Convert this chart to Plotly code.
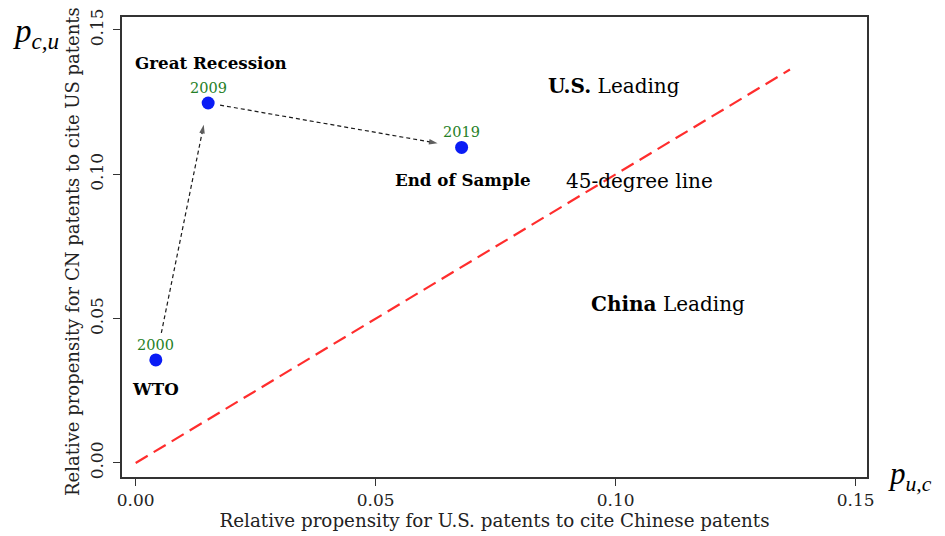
import plotly.graph_objects as go

# ---- data ----
years = ["2000", "2009", "2019"]
p_uc = [0.0042, 0.0151, 0.0679]      # x: propensity for U.S. patents to cite Chinese patents
p_cu = [0.0357, 0.1247, 0.1093]      # y: propensity for CN patents to cite US patents
events = ["WTO", "Great Recession", "End of Sample"]
diag = [0.0, 0.1363]                 # 45-degree line extent
x_ticks = [0.00, 0.05, 0.10, 0.15]
y_ticks = [0.00, 0.05, 0.10, 0.15]
# fraction of each segment trimmed (start, end) for the arrows
arrow_trims = [(0.105, 0.915), (0.047, 0.905)]

FONT = "DejaVu Serif"
BLACK = "#1a1a1a"

fig = go.Figure()

# 45-degree line
fig.add_trace(go.Scatter(x=diag, y=diag, mode="lines",
                         line=dict(color="rgb(255,45,45)", width=2.2, dash="14px,7px"),
                         hoverinfo="skip", showlegend=False))

# dashed arrow shafts with arrowhead markers
for i, (a, b) in enumerate(arrow_trims):
    x0, y0, x1, y1 = p_uc[i], p_cu[i], p_uc[i + 1], p_cu[i + 1]
    sx, sy = x0 + a * (x1 - x0), y0 + a * (y1 - y0)
    ex, ey = x0 + b * (x1 - x0), y0 + b * (y1 - y0)
    fig.add_trace(go.Scatter(x=[sx, ex], y=[sy, ey], mode="lines+markers",
                             line=dict(color=BLACK, width=1.2, dash="4px,3px"),
                             marker=dict(symbol=["circle", "arrow"], size=[0, 9],
                                         angleref="previous", color=BLACK,
                                         line=dict(width=0)),
                             hoverinfo="skip", showlegend=False))

# points
fig.add_trace(go.Scatter(x=p_uc, y=p_cu, mode="markers",
                         marker=dict(color="#0a1cf5", size=13, line=dict(width=0)),
                         showlegend=False))

# year labels (green, above the points)
for xv, yv, yr in zip(p_uc, p_cu, years):
    fig.add_annotation(x=xv, y=yv, text=yr, showarrow=False, yshift=15,
                       font=dict(family=FONT, size=14.5, color="#267f26"))

# event labels
event_offsets = [(0, -29), (3, 40), (1, -33)]
for xv, yv, ev, (dx, dy) in zip(p_uc, p_cu, events, event_offsets):
    fig.add_annotation(x=xv, y=yv, text="<b>" + ev + "</b>", showarrow=False,
                       xshift=dx, yshift=dy,
                       font=dict(family=FONT, size=16.7, color="black"))

# region labels (paper coordinates)
fig.add_annotation(x=(614 - 122) / 745, y=(477 - 72) / 460, xref="paper", yref="paper",
                   text="<b>U.S.</b> Leading", showarrow=False,
                   font=dict(family=FONT, size=20, color="black"))
fig.add_annotation(x=(715 - 122) / 745, y=(477 - 181) / 460, xref="paper", yref="paper",
                   text="45-degree line", showarrow=False,
                   font=dict(family=FONT, size=20, color="black"))
fig.add_annotation(x=(747 - 122) / 745, y=(477 - 304) / 460, xref="paper", yref="paper",
                   text="<b>China</b> Leading", showarrow=False,
                   font=dict(family=FONT, size=20, color="black"))

# y-axis title as a rotated annotation
fig.add_annotation(x=(72 - 122) / 745, y=(477 - 252) / 460, xref="paper", yref="paper",
                   text="Relative propensity for CN patents to cite US patents",
                   textangle=-90, showarrow=False, xanchor="center", yanchor="middle",
                   font=dict(family=FONT, size=18, color="#222222"))

# math symbols outside the plot
fig.add_annotation(x=-111 / 745, y=1.013, xref="paper", yref="paper", xanchor="left",
                   yanchor="top", text="<i>p</i><sub><i>c,u</i></sub>", showarrow=False,
                   font=dict(family="Liberation Serif", size=33, color="black"))
fig.add_annotation(x=(886 - 122) / 745, y=0.003, xref="paper", yref="paper", xanchor="left",
                   yanchor="middle", text="<i>p</i><sub><i>u,c</i></sub>", showarrow=False,
                   font=dict(family="Liberation Serif", size=31, color="black"))

axis_common = dict(showgrid=False, zeroline=False, showline=True, mirror=True,
                   linecolor="#333333", linewidth=1.5, ticks="outside", ticklen=7,
                   tickwidth=1, tickcolor="#333333", automargin=False,
                   ticklabeloverflow="allow")

fig.update_xaxes(range=[-0.00285, 0.15235], tickvals=x_ticks,
                 ticktext=[f"{v:.2f}" for v in x_ticks],
                 tickfont=dict(family=FONT, size=17, color="#222222"),
                 title=dict(text="Relative propensity for U.S. patents to cite Chinese patents",
                            font=dict(family=FONT, size=18.3, color="#222222"), standoff=4),
                 **axis_common)
fig.update_yaxes(range=[-0.00486, 0.1545], tickvals=y_ticks,
                 ticktext=[f"{v:.2f}" for v in y_ticks], tickangle=-90,
                 tickfont=dict(family=FONT, size=17, color="#222222"),
                 ticklabelstandoff=3,
                 **axis_common)

fig.update_layout(width=937, height=528, margin=dict(l=114, r=78, t=9, b=59),
                  plot_bgcolor="white", paper_bgcolor="white", showlegend=False)

fig.write_html("out.html")
